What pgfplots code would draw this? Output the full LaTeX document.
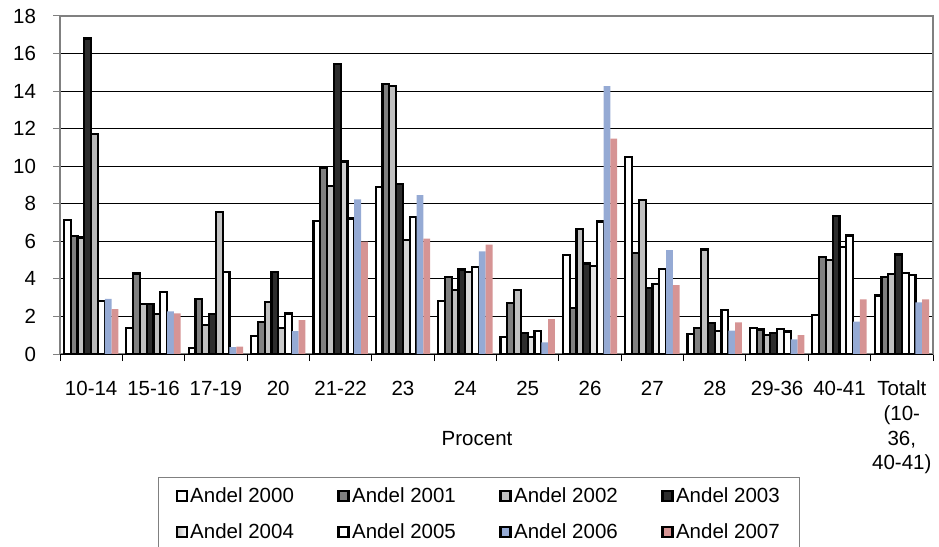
\documentclass[border=0pt]{standalone}
\usepackage{pgfplots}
\pgfplotsset{compat=1.18}
\usepackage{pgfplotstable}
\usepackage{fontspec}
\setmainfont{Liberation Sans}

\definecolor{blu}{RGB}{149,170,212}
\definecolor{pnk}{RGB}{214,148,148}
\definecolor{dk}{RGB}{45,45,45}
\definecolor{mid}{RGB}{128,128,128}
\definecolor{lt}{RGB}{192,192,192}

% columns: category index, Andel 2000 ... Andel 2007
\pgfplotstableread{
x  a     b     c     d     e     f     g     h
0  7.13  6.28  6.20  16.80 11.70 2.84  2.94  2.39
1  1.40  4.29  2.68  2.68  2.13  3.30  2.27  2.16
2  0.30  2.93  1.53  2.13  7.57  4.38  0.37  0.39
3  0.94  1.69  2.75  4.35  1.37  2.16  1.22  1.81
4  7.07  9.91  8.94  15.46 10.25 7.22  8.23  5.99
5  8.90  14.36 14.26 9.04  6.06  7.30  8.46  6.15
6  2.84  4.11  3.39  4.50  4.38  4.65  5.46  5.82
7  0.92  2.70  3.42  1.10  0.92  1.24  0.62  1.86
8  5.27  2.43  6.65  4.82  4.70  7.06  14.26 11.47
9  10.51 5.36  8.21  3.53  3.72  4.54  5.53  3.67
10 1.05  1.40  5.57  1.67  1.22  2.34  1.24  1.69
11 1.37  1.30  1.00  1.10  1.35  1.20  0.78  1.00
12 2.07  5.16  5.00  7.36  5.69  6.31  1.72  2.91
13 3.12  4.11  4.26  5.30  4.33  4.19  2.75  2.91
}\data

\begin{document}
\fontsize{20.5}{24.6}\selectfont
\begin{tikzpicture}
\useasboundingbox (0,0) rectangle (939pt,546pt);
\begin{axis}[
    at={(60pt,192pt)}, anchor=south west,
    scale only axis, width=873pt, height=338pt,
    xmin=-0.5, xmax=13.5, ymin=0, ymax=18,
    ytick={0,2,...,18},
    xtick={0,...,13},
    minor xtick={-0.5,0.5,...,13.5},
    xticklabels={10-14,15-16,17-19,20,21-22,23,24,25,26,27,28,29-36,40-41,{Totalt\\(10-\\36,\\40-41)}},
    tick pos=left, tick align=outside,
    major tick length=7pt, minor tick length=7pt,
    major x tick style={draw=none},
    minor x tick style={black, line width=1pt},
    major y tick style={mid, line width=1pt},
    axis line style={mid, line width=1.5pt},
    ymajorgrids, major grid style={black, line width=0.8pt},
    /pgf/number format/assume math mode=true,
    tick label style={font=\fontsize{20.5}{24.6}\selectfont},
    xticklabel style={align=center, yshift=-13pt},
    yticklabel style={xshift=-10pt},
    xlabel={Procent},
    xlabel style={at={(axis description cs:0.4777,-0.2515)}, anchor=center},
    ybar=0pt, bar width=6.8pt,
    clip=false,
    every axis plot post/.append style={
        legend image code/.code={\draw[##1, line width=2.2pt] (0pt,-4.5pt) rectangle (10pt,5.5pt);}},
    legend columns=4, legend cell align=left,
    legend style={at={(axis description cs:0.1123,-0.3639)}, anchor=north west,
        draw=mid, line width=1pt, inner xsep=17pt, inner ysep=8pt,
        row sep=14pt,
        font=\fontsize{20.5}{24.6}\selectfont,
        nodes={inner xsep=2.5pt, inner ysep=2pt},
        /tikz/every even column/.append style={column sep=41pt}},
]
\addplot[draw=black, line width=2.2pt, fill=white] table[x=x, y=a] {\data};
\addplot[draw=black, line width=2.2pt, fill=mid] table[x=x, y=b] {\data};
\addplot[draw=black, line width=2.2pt, fill=lt] table[x=x, y=c] {\data};
\addplot[draw=black, line width=2.2pt, fill=dk] table[x=x, y=d] {\data};
\addplot[draw=black, line width=2.2pt, left color=gray!55, middle color=white, right color=white] table[x=x, y=e] {\data};
\addplot[draw=black, line width=2.2pt, fill=white] table[x=x, y=f] {\data};
\addplot[draw=none, fill=blu] table[x=x, y=g] {\data};
\addplot[draw=none, fill=pnk] table[x=x, y=h] {\data};
\legend{Andel 2000,Andel 2001,Andel 2002,Andel 2003,Andel 2004,Andel 2005,Andel 2006,Andel 2007}
\draw[black, line width=1pt] (axis cs:-0.5,0) -- (axis cs:13.5,0);
\end{axis}
\end{tikzpicture}
\end{document}
